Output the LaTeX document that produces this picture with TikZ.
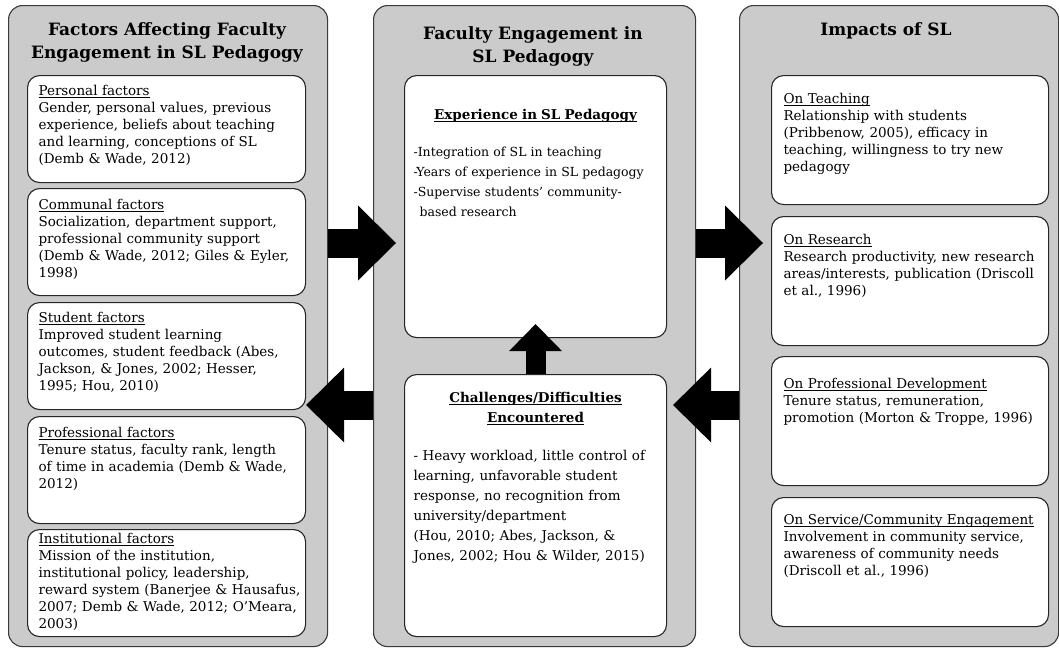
\documentclass[tikz,border=0pt]{standalone}
\usepackage{fontspec}
\setmainfont{DejaVu Serif}
\usepackage{xcolor}
\usepackage{tikz}
\usetikzlibrary{arrows.meta,positioning,calc}

\definecolor{panelgray}{HTML}{CBCBCB}
\definecolor{edgegray}{HTML}{3A3A3A}

% underline that cuts the descenders, as in the source
\newsavebox{\ulinebox}
\newcommand{\uln}[1]{\leavevmode\sbox{\ulinebox}{#1}\rlap{\rule[-1.8pt]{\wd\ulinebox}{0.6pt}}\usebox{\ulinebox}}

\tikzset{
  panel/.style={draw=edgegray, fill=panelgray, line width=1.1pt, rounded corners=14pt,
    anchor=north west, minimum width=319pt, minimum height=641pt, inner sep=0pt},
  paneltitle/.style={align=center, font=\fontsize{17}{23}\selectfont\bfseries},
  factorbox/.style={draw=black!85, fill=white, line width=1.1pt, rounded corners=12pt,
    anchor=north west, align=left, inner ysep=0pt},
  leftbox/.style={factorbox, text width=256pt, inner xsep=11pt, text height=20pt, text depth=87pt,
    font=\fontsize{13.5}{17}\selectfont},
  rightbox/.style={factorbox, text width=253pt, inner xsep=12pt, text height=28pt, text depth=101pt,
    font=\fontsize{13.5}{17}\selectfont},
  midbox/.style={factorbox, text width=244pt, inner xsep=9pt},
  bigarrow/.style={line width=29pt, -{Triangle[width=75pt, length=38pt, line width=0pt]}},
  uparrow/.style={line width=20pt, -{Triangle[width=53pt, length=27pt, line width=0pt]}},
}

\begin{document}
\begin{tikzpicture}[x=1pt, y=-1pt]
    \useasboundingbox (0,0) rectangle (1059,648);

    % Panels
    \node[panel] (leftpanel) at (8,5) {};
    \node[panel, minimum width=322pt] (midpanel) at (373,5) {};
    \node[panel] (rightpanel) at (739,5) {};

    % Panel titles
    \node[paneltitle] (lefttitle) at (167,42) {Factors Affecting Faculty\\Engagement in SL Pedagogy};
    \node[paneltitle] (midtitle) at (533,46) {Faculty Engagement in\\SL Pedagogy};
    \node[paneltitle] (righttitle) at (886,31) {Impacts of SL};

    % Factors
    \node[leftbox] (personal) at (27,75) {\uln{Personal factors}\\
        Gender, personal values, previous\\
        experience, beliefs about teaching\\
        and learning, conceptions of SL\\
        (Demb \& Wade, 2012)};
    \node[leftbox, text height=21pt, text depth=86pt] (communal) at (27,188) {\uln{Communal factors}\\
        Socialization, department support,\\
        professional community support\\
        (Demb \& Wade, 2012; Giles \& Eyler,\\
        1998)};
    \node[leftbox] (student) at (27,302) {\uln{Student factors}\\
        Improved student learning\\
        outcomes, student feedback (Abes,\\
        Jackson, \& Jones, 2002; Hesser,\\
        1995; Hou, 2010)};
    \node[leftbox, text height=21pt, text depth=86pt] (professional) at (27,416) {\uln{Professional factors}\\
        Tenure status, faculty rank, length\\
        of time in academia (Demb \& Wade,\\
        2012)};
    \node[leftbox, text height=14pt, text depth=93pt] (institutional) at (27,529) {\uln{Institutional factors}\\
        Mission of the institution,\\
        institutional policy, leadership,\\
        \mbox{reward system (Banerjee \& Hausafus,}\\
        \mbox{2007; Demb \& Wade, 2012; O’Meara,}\\
        2003)};

    % Engagement
    \node[midbox, text height=44pt, text depth=218pt, font=\fontsize{12.5}{20}\selectfont] (experience) at (404,75) {%
        \centerline{\fontsize{13.5}{20}\selectfont\bfseries\uln{Experience in SL Pedagogy}}\par\vspace{17pt}
        -Integration of SL in teaching\\
        -Years of experience in SL pedagogy\\
        -Supervise students’ community-\\
        \hspace*{6pt}based research};
    \node[midbox, text height=28pt, text depth=234pt, font=\fontsize{13.5}{20}\selectfont] (challenge) at (404,374) {%
        \centerline{\bfseries\uln{Challenges/Difficulties}}
        \centerline{\bfseries\uln{Encountered}}\par\vspace{18pt}
        - Heavy workload, little control of\\
        learning, unfavorable student\\
        response, no recognition from\\
        university/department\\
        (Hou, 2010; Abes, Jackson, \&\\
        Jones, 2002; Hou \& Wilder, 2015)};

    % Impacts
    \node[rightbox] (teaching) at (771,75) {\uln{On Teaching}\\
        Relationship with students\\
        (Pribbenow, 2005), efficacy in\\
        teaching, willingness to try new\\
        pedagogy};
    \node[rightbox] (research) at (771,216) {\uln{On Research}\\
        Research productivity, new research\\
        \mbox{areas/interests, publication (Driscoll}\\
        et al., 1996)};
    \node[rightbox, text height=32pt, text depth=97pt] (development) at (771,356) {\uln{On Professional Development}\\
        Tenure status, remuneration,\\
        promotion (Morton \& Troppe, 1996)};
    \node[rightbox, text height=27pt, text depth=102pt] (service) at (771,497) {\uln{On Service/Community Engagement}\\
        Involvement in community service,\\
        awareness of community needs\\
        (Driscoll et al., 1996)};

    % Arrows
    \draw[bigarrow] (leftpanel.east |- 0,243) -- ($(experience.west |- 0,243)+(-8,0)$);
    \draw[bigarrow] (midpanel.east |- 0,243) -- ($(research.west |- 0,243)+(-8,0)$);
    \draw[bigarrow] (midpanel.west |- 0,405) -- (student.east |- 0,405);
    \draw[bigarrow] (rightpanel.west |- 0,405) -- ($(challenge.east |- 0,405)+(6,0)$);
    \draw[uparrow] (challenge.north) -- ($(experience.south)+(0,-14)$);
\end{tikzpicture}
\end{document}
